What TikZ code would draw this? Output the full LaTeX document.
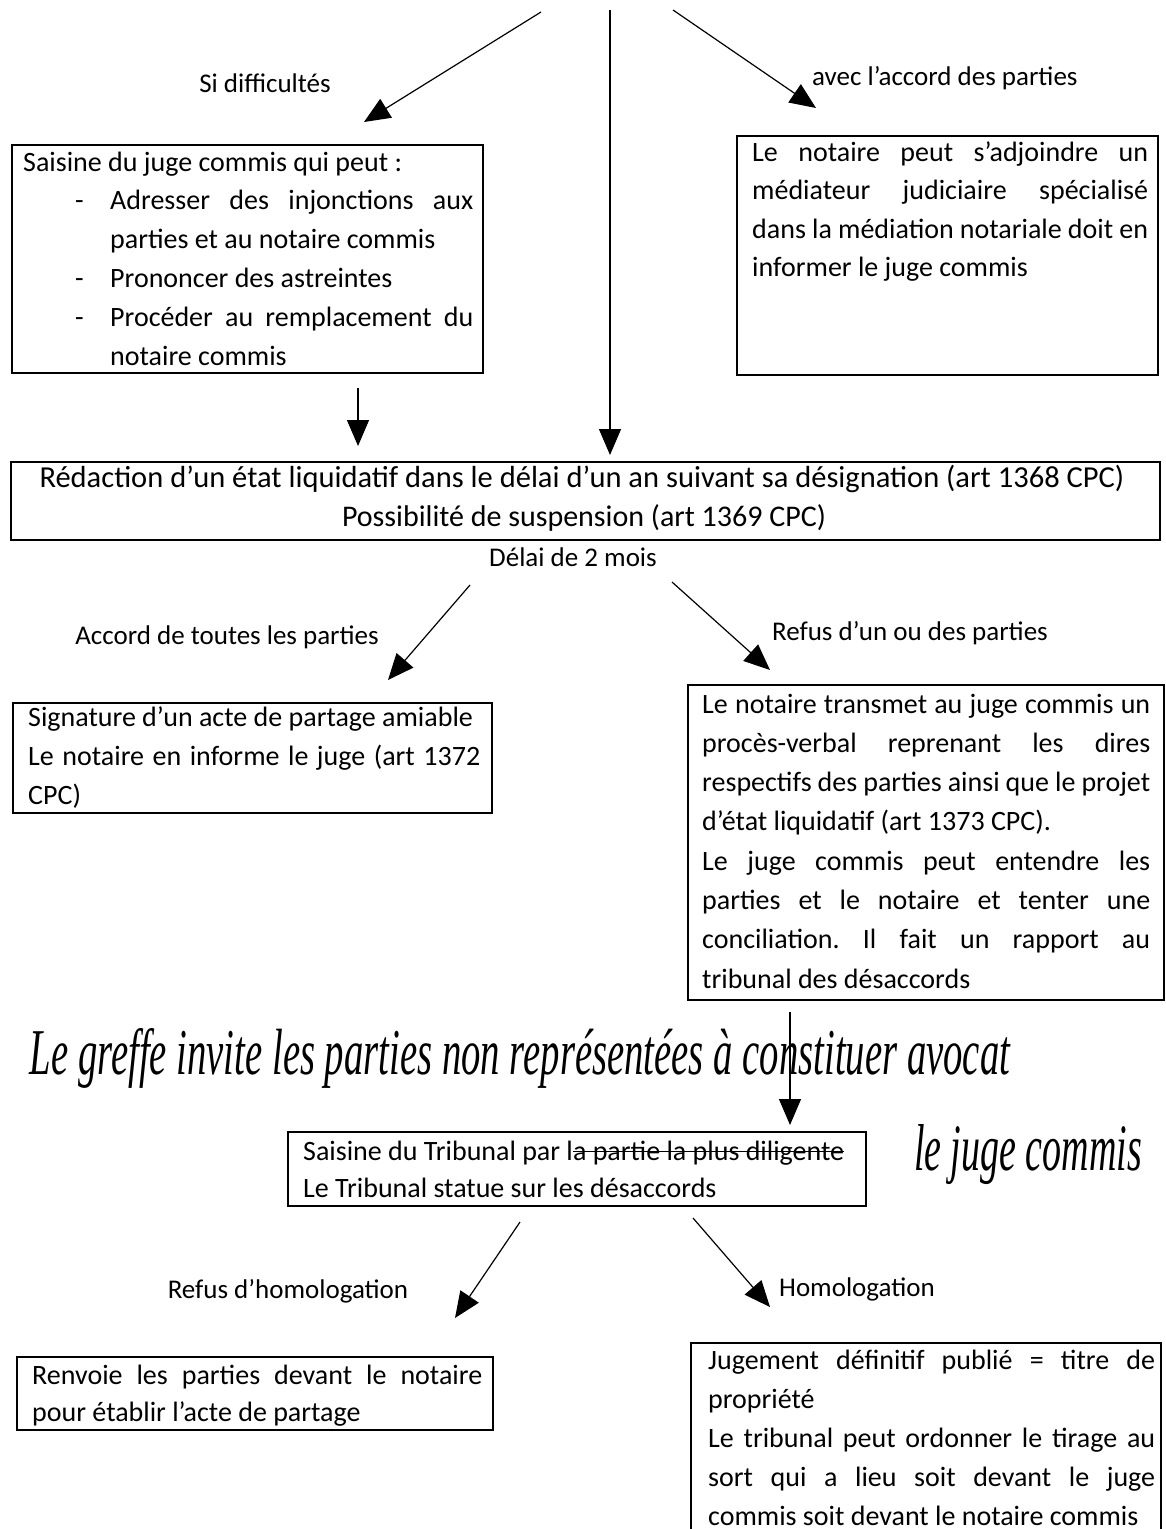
\documentclass[tikz,border=0pt]{standalone}
\usepackage{fontspec}
\setmainfont{Carlito}
\newfontfamily\handfont{Liberation Serif}
\usetikzlibrary{arrows.meta}
\frenchspacing
\tikzset{
 box/.style={draw, line width=1.2pt, anchor=north west, inner sep=0pt, outer sep=0pt},
 txt/.style={anchor=base west, inner sep=0pt},
 lbl/.style={inner sep=0pt, font=\fontsize{27}{39}\selectfont},
 hand/.style={inner sep=0pt, font=\handfont\itshape},
 arr/.style={line width=1.2pt, -{Triangle[length=26pt,width=22pt]}},
}
\newcommand\jl[2]{\makebox[#1pt][s]{#2}}
\newcommand\pb[3]{\parbox[t]{#1pt}{\fontsize{28}{#2}\selectfont #3}}
\newcommand\strk[1]{\setbox0\hbox{#1}\rlap{\rule[0.27em]{\wd0}{1.2pt}}\box0}
\begin{document}
\begin{tikzpicture}[x=1pt,y=-1pt]
\useasboundingbox[fill=white] (0,0) rectangle (1166,1529);

% boxes
\node[box, minimum width=471pt, minimum height=228pt] (b1) at (12,145) {};
\node[box, minimum width=421pt, minimum height=239pt] (b2) at (737,136) {};
\node[box, minimum width=1149pt, minimum height=78pt] (b3) at (11,462) {};
\node[box, minimum width=479pt, minimum height=110pt] (b4) at (13,703) {};
\node[box, minimum width=476pt, minimum height=315pt] (b5) at (688,685) {};
\node[box, minimum width=578pt, minimum height=74pt] (b6) at (288,1132) {};
\node[box, minimum width=476pt, minimum height=73pt] (b7) at (17,1357) {};
\node[box, minimum width=470pt, minimum height=188pt] (b8) at (691,1343) {};

% box texts
\node[txt] (t1) at (23,171) {\pb{460}{38.8}{Saisine du juge commis qui peut :\\
\hspace*{52pt}\makebox[35pt][l]{-}\jl{363}{Adresser des injonctions aux}\\
\hspace*{87pt}parties et au notaire commis\\
\hspace*{52pt}\makebox[35pt][l]{-}Prononcer des astreintes\\
\hspace*{52pt}\makebox[35pt][l]{-}\jl{363}{Procéder au remplacement du}\\
\hspace*{87pt}notaire commis}};

\node[txt] (t2) at (752,161) {\pb{396}{38.5}{\jl{396}{Le notaire peut s’adjoindre un}\\
\jl{396}{médiateur judiciaire spécialisé}\\
\jl{396}{dans la médiation notariale doit en}\\
informer le juge commis}};

\node[inner sep=0pt, anchor=base, font=\fontsize{30.5}{39}\selectfont] (t3a) at (582,487) {\makebox[1085pt][s]{Rédaction d’un état liquidatif dans le délai d’un an suivant sa désignation (art 1368 CPC)}};
\node[inner sep=0pt, anchor=base, font=\fontsize{30}{39}\selectfont] (t3b) at (584,526) {Possibilité de suspension (art 1369 CPC)};

\node[txt] (t4) at (28,726) {\pb{452}{39}{Signature d’un acte de partage amiable\\
\jl{452}{Le notaire en informe le juge (art 1372}\\
CPC)}};

\node[txt] (t5) at (702,713) {\pb{448}{39.3}{\jl{448}{Le notaire transmet au juge commis un}\\
\jl{448}{procès-verbal reprenant les dires}\\
\jl{448}{respectifs des parties ainsi que le projet}\\
d’état liquidatif (art 1373 CPC).\\
\jl{448}{Le juge commis peut entendre les}\\
\jl{448}{parties et le notaire et tenter une}\\
\jl{448}{conciliation. Il fait un rapport au}\\
tribunal des désaccords}};

\node[txt] (t6) at (303,1160) {\pb{560}{37}{Saisine du Tribunal par l\strk{a partie la plus diligente}\\
Le Tribunal statue sur les désaccords}};

\node[txt] (t7) at (32,1384) {\pb{450}{37}{\jl{450}{Renvoie les parties devant le notaire}\\
pour établir l’acte de partage}};

\node[txt] (t8) at (708,1369) {\pb{447}{39}{\jl{447}{Jugement définitif publié = titre de}\\
propriété\\
\jl{447}{Le tribunal peut ordonner le tirage au}\\
\jl{447}{sort qui a lieu soit devant le juge}\\
commis soit devant le notaire commis}};

% labels
\node[lbl] (l1) at (265,83) {Si difficultés};
\node[lbl, anchor=west] (l2) at (812,78) {avec l’accord des parties};
\node[lbl] (l3) at (573,557) {Délai de 2 mois};
\node[lbl] (l4) at (227,637) {Accord de toutes les parties};
\node[lbl] (l5) at (910,633) {Refus d’un ou des parties};
\node[lbl] (l6) at (288,1291) {Refus d’homologation};
\node[lbl] (l7) at (857,1289) {Homologation};

% handwritten notes
\node[hand] (h1) at (520,1058) {\resizebox{980pt}{46pt}{Le greffe invite les parties non représentées à constituer avocat}};
\node[hand] (h2) at (1028,1155) {\resizebox{228pt}{46pt}{le juge commis}};

% arrow coordinates
\coordinate (s1) at (541,12);  \coordinate (e1) at (364,122);
\coordinate (s2) at (610,10);  \coordinate (e2) at (610,455);
\coordinate (s3) at (673,10);  \coordinate (e3) at (816,108);
\coordinate (s4) at (358,388); \coordinate (e4) at (358,446);
\coordinate (s5) at (470,585); \coordinate (e5) at (388,680);
\coordinate (s6) at (672,582); \coordinate (e6) at (770,670);
\coordinate (s7) at (790,1012); \coordinate (e7) at (790,1125);
\coordinate (s8) at (520,1222); \coordinate (e8) at (455,1318);
\coordinate (s9) at (693,1218); \coordinate (e9) at (770,1307);

\draw[arr] (s1) -- (e1);
\draw[arr] (s2) -- (e2);
\draw[arr] (s3) -- (e3);
\draw[arr] (s4) -- (e4);
\draw[arr] (s5) -- (e5);
\draw[arr] (s6) -- (e6);
\draw[arr] (s7) -- (e7);
\draw[arr] (s8) -- (e8);
\draw[arr] (s9) -- (e9);
\end{tikzpicture}
\end{document}
